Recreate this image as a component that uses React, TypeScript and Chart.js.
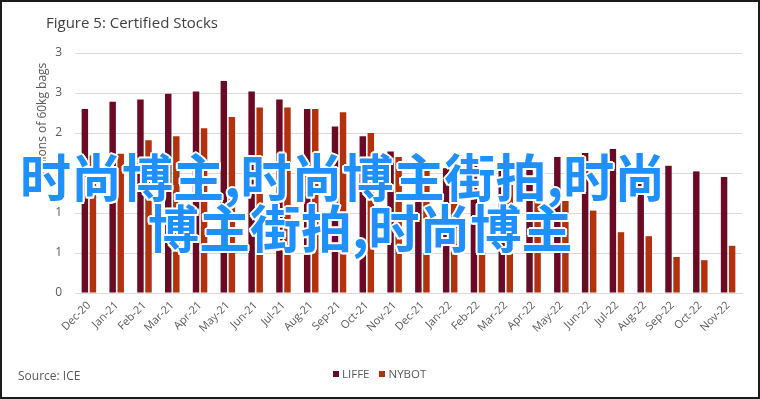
import React, { useEffect, useRef } from "react";
import { Chart, registerables } from "chart.js";

Chart.register(...registerables);

const categories = [
  "Dec-20", "Jan-21", "Feb-21", "Mar-21", "Apr-21", "May-21", "Jun-21", "Jul-21",
  "Aug-21", "Sep-21", "Oct-21", "Nov-21", "Dec-21", "Jan-22", "Feb-22", "Mar-22",
  "Apr-22", "May-22", "Jun-22", "Jul-22", "Aug-22", "Sep-22", "Oct-22", "Nov-22",
];

const liffe = [
  2.3, 2.39, 2.42, 2.49, 2.52, 2.65, 2.52, 2.42, 2.3, 2.08, 1.96, 1.77,
  1.65, 1.56, 1.62, 1.62, 1.56, 1.7, 1.75, 1.8, 1.59, 1.59, 1.52, 1.45,
];

const nybot = [
  1.72, 1.74, 1.91, 1.96, 2.06, 2.2, 2.32, 2.32, 2.3, 2.26, 2.0, 1.7,
  1.64, 1.5, 1.08, 1.35, 1.3, 1.15, 1.03, 0.76, 0.71, 0.45, 0.41, 0.59,
];

const yTickLabels = ["0", "1", "1", "2", "2", "3", "3"];

const seriesNames = ["LIFFE", "NYBOT"];
const seriesColors = ["#6A0A24", "#B3320E"];

const titleText = "Figure 5: Certified Stocks";
const yAxisTitle = "Millions of 60kg bags";
const sourceText = "Source: ICE";
const watermarkLine1 = "时尚博主,时尚博主街拍,时尚";
const watermarkLine2 = "博主街拍,时尚博主";

const FONT = "'Open Sans', 'Noto Sans', sans-serif";

const yTitlePlugin = {
  id: "yTitlePlugin",
  afterDraw(chart: any) {
    const ctx = chart.ctx;
    ctx.save();
    ctx.translate(43, 121);
    ctx.rotate(-Math.PI / 2);
    ctx.font = `12px ${FONT}`;
    ctx.fillStyle = "#595959";
    ctx.textAlign = "center";
    ctx.textBaseline = "middle";
    ctx.fillText(yAxisTitle, 0, 0);
    ctx.restore();
  },
};

export default function App() {
  const canvasRef = useRef<HTMLCanvasElement | null>(null);

  useEffect(() => {
    if (!canvasRef.current) return;
    const chart = new Chart(canvasRef.current, {
      type: "bar",
      data: {
        labels: categories,
        datasets: [
          {
            label: seriesNames[0],
            data: liffe,
            backgroundColor: seriesColors[0],
            barPercentage: 0.8,
            categoryPercentage: 0.58,
          },
          {
            label: seriesNames[1],
            data: nybot,
            backgroundColor: seriesColors[1],
            barPercentage: 0.8,
            categoryPercentage: 0.58,
          },
        ],
      },
      options: {
        responsive: false,
        maintainAspectRatio: false,
        animation: false,
        layout: { padding: { left: 45, right: 18, top: 53, bottom: 56 } },
        plugins: {
          legend: { display: false },
          title: { display: false },
          tooltip: { enabled: false },
        },
        scales: {
          x: {
            grid: { display: false, drawTicks: false },
            border: { color: "#d9d9d9", width: 1 },
            ticks: {
              color: "#595959",
              font: { family: FONT, size: 11 },
              minRotation: 45,
              maxRotation: 45,
              padding: 6,
              autoSkip: false,
            },
            afterFit(scale: any) {
              scale.height = 50;
            },
          },
          y: {
            min: 0,
            max: 3,
            grid: { color: "#d9d9d9", drawTicks: false },
            border: { display: false },
            ticks: {
              stepSize: 0.5,
              color: "#595959",
              font: { family: FONT, size: 12 },
              padding: 13,
              callback: (_v: any, i: number) => yTickLabels[i],
            },
            afterFit(scale: any) {
              scale.width = 30;
            },
          },
        },
      },
      plugins: [yTitlePlugin],
    });
    return () => chart.destroy();
  }, []);

  const wmStyle: React.CSSProperties = {
    position: "absolute",
    whiteSpace: "nowrap",
    fontFamily: "'Noto Sans CJK SC', sans-serif",
    fontWeight: 700,
    fontSize: 51,
    lineHeight: "52px",
    color: "#1E90FF",
    textShadow:
      "2px 0 0 #fff, -2px 0 0 #fff, 0 2px 0 #fff, 0 -2px 0 #fff, 1.5px 1.5px 0 #fff, -1.5px 1.5px 0 #fff, 1.5px -1.5px 0 #fff, -1.5px -1.5px 0 #fff",
    pointerEvents: "none",
  };

  return (
    <div
      style={{
        position: "fixed",
        left: 0,
        top: 0,
        width: 760,
        height: 399,
        boxSizing: "border-box",
        border: "2px solid #1a1a1a",
        background: "#fff",
        overflow: "hidden",
      }}
    >
      <canvas
        ref={canvasRef}
        width={760}
        height={399}
        style={{ position: "absolute", left: -2, top: -2, width: 760, height: 399 }}
      />
      <div
        style={{
          position: "absolute",
          left: 44,
          top: 10,
          fontFamily: FONT,
          fontSize: 15,
          color: "#404040",
          whiteSpace: "nowrap",
        }}
      >
        {titleText}
      </div>
      <div
        style={{
          position: "absolute",
          left: 16,
          top: 365,
          fontFamily: FONT,
          fontSize: 12,
          color: "#595959",
          whiteSpace: "nowrap",
        }}
      >
        {sourceText}
      </div>
      <div
        style={{
          position: "absolute",
          left: 331,
          top: 364,
          display: "flex",
          alignItems: "center",
          fontFamily: FONT,
          fontSize: 11.5,
          color: "#595959",
          whiteSpace: "nowrap",
        }}
      >
        {seriesNames.map((n, i) => (
          <span key={n} style={{ display: "flex", alignItems: "center", marginRight: 10 }}>
            <span
              style={{
                display: "inline-block",
                width: 6,
                height: 6,
                background: seriesColors[i],
                marginRight: 3,
              }}
            />
            {n}
          </span>
        ))}
      </div>
      <div style={{ ...wmStyle, left: 18, top: 147 }}>{watermarkLine1}</div>
      <div style={{ ...wmStyle, left: 146, top: 198 }}>{watermarkLine2}</div>
    </div>
  );
}
